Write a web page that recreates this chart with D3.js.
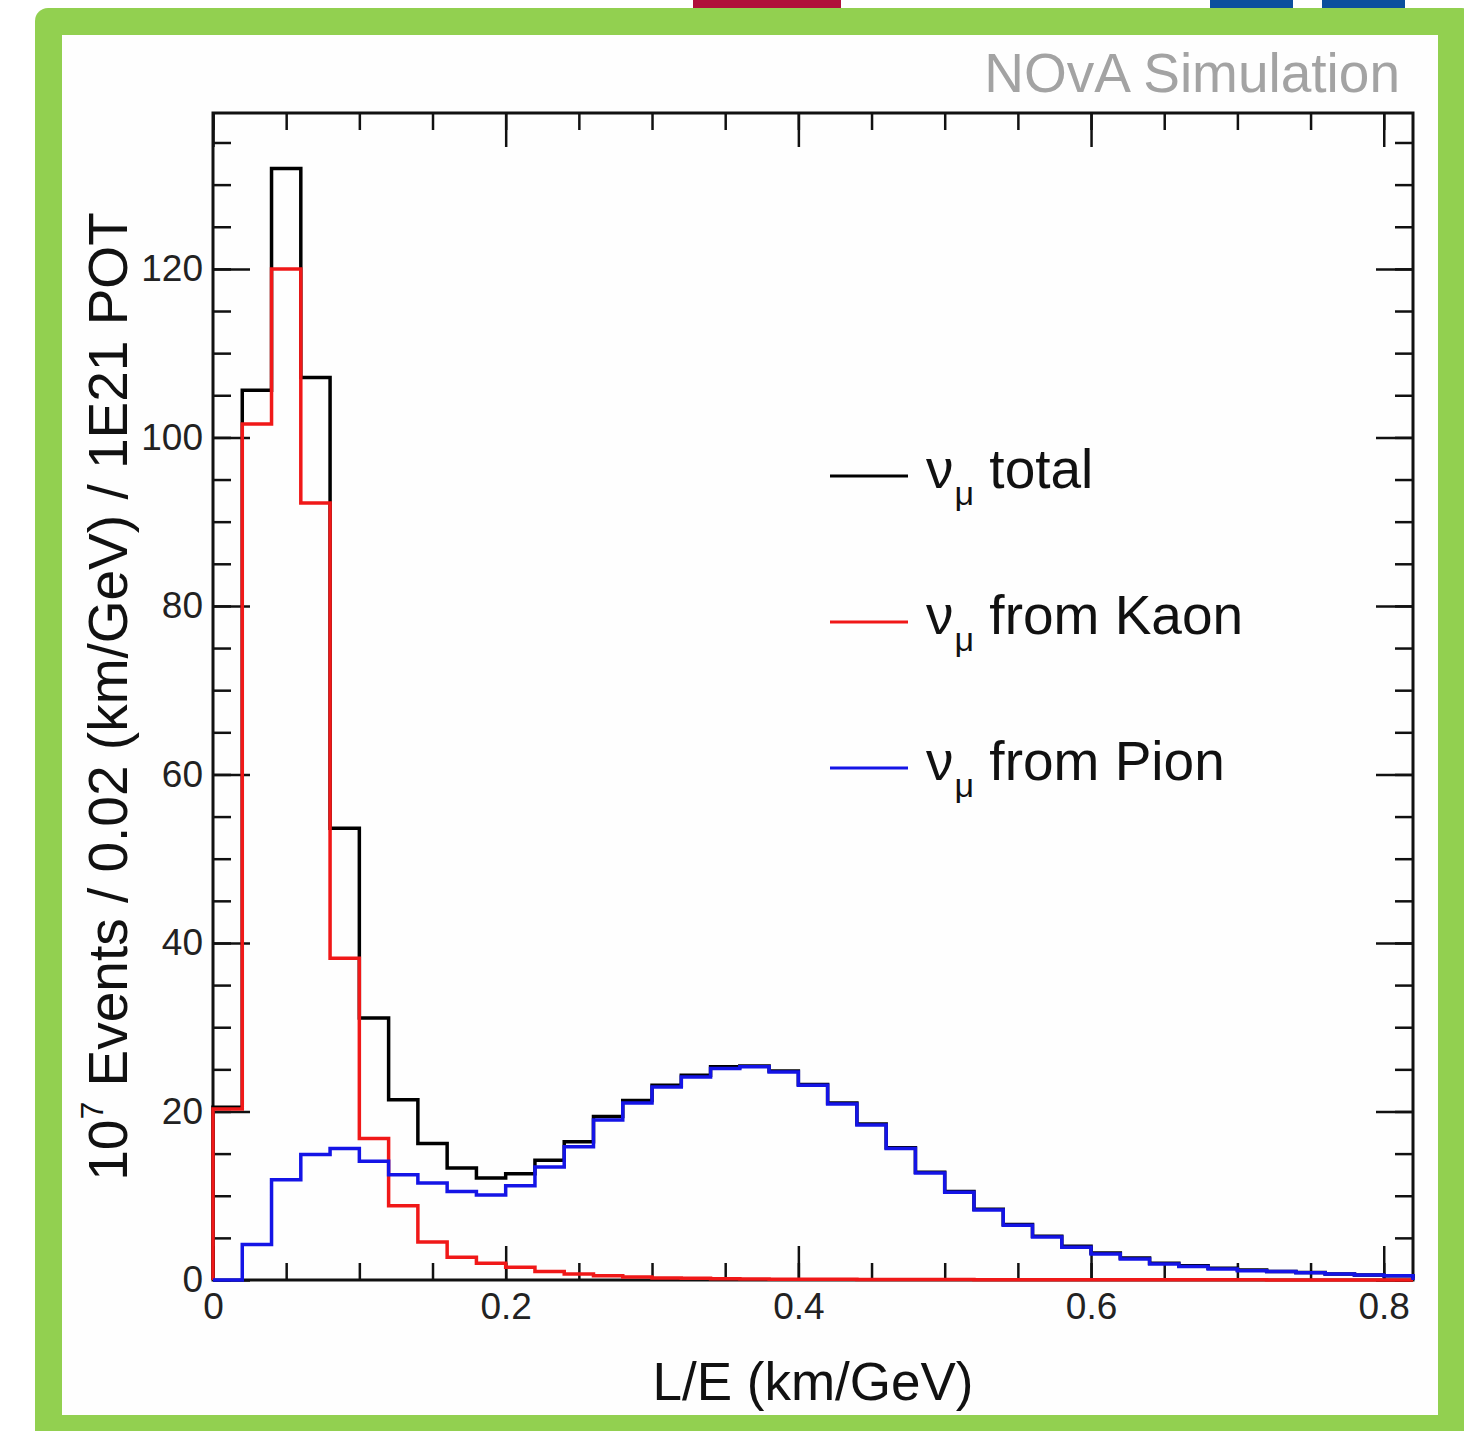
<!DOCTYPE html>
<html>
<head>
<meta charset='utf-8'>
<title>NOvA L/E</title>
<style>
  body { margin: 0; background: #fff; }
  text { font-family: 'Liberation Sans', Arial, sans-serif; }
</style>
<script src='https://d3js.org/d3.v7.min.js'></script>
</head>
<body>
<div id="container"></div>
<script>
// ******* Data (0.02 km/GeV bins from 0 to 0.82) *******
const binWidth = 0.02;
const total = [20.5, 105.6, 131.9, 107.1, 53.6, 31.1, 21.4, 16.2, 13.3, 12.1,
               12.6, 14.2, 16.4, 19.4, 21.3, 23.1, 24.3, 25.3, 25.4, 24.8,
               23.2, 21.0, 18.5, 15.7, 12.8, 10.5, 8.4, 6.6, 5.2, 4.0,
               3.2, 2.6, 2.0, 1.7, 1.4, 1.2, 1.0, 0.9, 0.7, 0.6, 0.5];
const kaon  = [20.3, 101.6, 120.0, 92.2, 38.2, 16.8, 8.8, 4.5, 2.7, 2.0,
               1.5, 1.0, 0.7, 0.5, 0.35, 0.25, 0.2, 0.15, 0.12, 0.1,
               0.1, 0.08, 0.07, 0.06, 0.05, 0.05, 0.04, 0.04, 0.03, 0.03,
               0.03, 0.02, 0.02, 0.02, 0.02, 0.02, 0.01, 0.01, 0.01, 0.01, 0.01];
const pion  = [0, 4.2, 11.9, 14.9, 15.6, 14.1, 12.5, 11.5, 10.5, 10.1,
               11.2, 13.4, 15.8, 19.0, 21.0, 22.9, 24.1, 25.1, 25.3, 24.7,
               23.1, 20.9, 18.4, 15.6, 12.7, 10.4, 8.3, 6.5, 5.1, 3.9,
               3.1, 2.5, 1.9, 1.6, 1.3, 1.1, 1.0, 0.87, 0.7, 0.6, 0.5];

const xMajor = [0, 0.2, 0.4, 0.6, 0.8];
const yMajor = [0, 20, 40, 60, 80, 100, 120];

const legendLabels = ["total", "from Kaon", "from Pion"];

// ******* Layout *******
const width = 1464, height = 1431;
const padLeft = 213, padRight = 1413, padTop = 113, padBottom = 1280;

var svg = d3.select("#container").append("svg")
    .attr("width", width)
    .attr("height", height)
    .style("display", "block");

// slide decoration: tabs and green frame
svg.append("rect").attr("x", 693).attr("y", 0).attr("width", 148).attr("height", 9).attr("fill", "#b0103a");
svg.append("rect").attr("x", 1210).attr("y", 0).attr("width", 83).attr("height", 9).attr("fill", "#0b4f9d");
svg.append("rect").attr("x", 1322).attr("y", 0).attr("width", 83).attr("height", 9).attr("fill", "#0b4f9d");
svg.append("rect").attr("x", 35).attr("y", 8).attr("width", 1440).attr("height", 1450)
    .attr("rx", 13).attr("fill", "#92d050");
svg.append("rect").attr("x", 62).attr("y", 35).attr("width", 1376).attr("height", 1380).attr("fill", "#fefefe");

// ******* Scales *******
var x = d3.scaleLinear().domain([0, 0.82]).range([padLeft, padRight]);
var y = d3.scaleLinear().domain([0, 138.5]).range([padBottom, padTop]);

// frame (drawn first so the histograms sit on top of it, like ROOT)
svg.append("rect")
    .attr("x", padLeft).attr("y", padTop)
    .attr("width", padRight - padLeft).attr("height", padBottom - padTop)
    .attr("fill", "none").attr("stroke", "#111").attr("stroke-width", 3);

// ******* Axes (ROOT style, ticks inward on all four sides) *******
const xMinor = d3.range(0, 0.8201, 0.05);
const yMinor = d3.range(0, 138, 5);

function styleAxis(g) {
  g.select(".domain").remove();
  g.selectAll("line").attr("stroke", "#111").attr("stroke-width", 2.5);
}

svg.append("g").attr("transform", `translate(0,${padBottom})`)
    .call(d3.axisBottom(x).tickValues(xMinor).tickSize(-17).tickFormat(""))
    .call(styleAxis);
svg.append("g").attr("transform", `translate(0,${padBottom})`)
    .call(d3.axisBottom(x).tickValues(xMajor).tickSize(-34).tickPadding(13)
      .tickFormat(d => d === 0 ? "0" : d3.format(".1f")(d)))
    .call(styleAxis)
    .selectAll("text").attr("font-size", 37).attr("fill", "#222")
    .attr("font-family", "'Liberation Sans', Arial, sans-serif");

svg.append("g").attr("transform", `translate(0,${padTop})`)
    .call(d3.axisTop(x).tickValues(xMinor).tickSize(-17).tickFormat(""))
    .call(styleAxis);
svg.append("g").attr("transform", `translate(0,${padTop})`)
    .call(d3.axisTop(x).tickValues(xMajor).tickSize(-34).tickFormat(""))
    .call(styleAxis);

svg.append("g").attr("transform", `translate(${padLeft},0)`)
    .call(d3.axisLeft(y).tickValues(yMinor).tickSize(-18).tickFormat(""))
    .call(styleAxis);
svg.append("g").attr("transform", `translate(${padLeft},0)`)
    .call(d3.axisLeft(y).tickValues(yMajor).tickSize(-37).tickPadding(10))
    .call(styleAxis)
    .selectAll("text").attr("font-size", 37).attr("fill", "#222")
    .attr("font-family", "'Liberation Sans', Arial, sans-serif");

svg.append("g").attr("transform", `translate(${padRight},0)`)
    .call(d3.axisRight(y).tickValues(yMinor).tickSize(-18).tickFormat(""))
    .call(styleAxis);
svg.append("g").attr("transform", `translate(${padRight},0)`)
    .call(d3.axisRight(y).tickValues(yMajor).tickSize(-37).tickFormat(""))
    .call(styleAxis);

// ******* Histograms *******
function steps(vals) {
  var pts = [[0, 0]];
  vals.forEach(function(v, i) {
    pts.push([i * binWidth, v]);
    pts.push([(i + 1) * binWidth, v]);
  });
  pts.push([vals.length * binWidth, 0]);
  return pts;
}
var line = d3.line().x(d => x(d[0])).y(d => y(d[1]));

const series = [
  {name: "total", vals: total, color: "#000000"},
  {name: "kaon",  vals: kaon,  color: "#f01818"},
  {name: "pion",  vals: pion,  color: "#1414e6"}
];

svg.selectAll("path.hist")
    .data(series)
    .enter()
    .append("path")
    .attr("class", "hist")
    .attr("d", d => line(steps(d.vals)))
    .attr("fill", "none")
    .attr("stroke", d => d.color)
    .attr("stroke-width", 3.5)
    .attr("stroke-linejoin", "miter");

// ******* Legend *******
var leg = svg.selectAll("g.legend")
    .data(series)
    .enter()
    .append("g")
    .attr("class", "legend")
    .attr("transform", (d, i) => `translate(0,${476 + i * 146})`);

leg.append("line")
    .attr("x1", 830).attr("x2", 908)
    .attr("stroke", d => d.color)
    .attr("stroke-width", 3);

var lt = leg.append("text")
    .attr("x", 926).attr("y", 12)
    .attr("font-size", 55)
    .attr("fill", "#111");
lt.append("tspan").text("ν");
lt.append("tspan").attr("font-size", 34).attr("dy", 17).attr("dx", 1).text("μ");
lt.append("tspan").attr("dy", -17).attr("dx", 0).text((d, i) => " " + legendLabels[i]);

// ******* Titles *******
svg.append("text")
    .attr("x", 1400).attr("y", 92)
    .attr("text-anchor", "end")
    .attr("font-size", 55)
    .attr("fill", "#a3a3a3")
    .text("NOvA Simulation");

svg.append("text")
    .attr("x", (padLeft + padRight) / 2).attr("y", 1400)
    .attr("text-anchor", "middle")
    .attr("font-size", 53)
    .attr("fill", "#111")
    .text("L/E (km/GeV)");

var yt = svg.append("text")
    .attr("transform", `translate(127,${(padTop + padBottom) / 2}) rotate(-90)`)
    .attr("text-anchor", "middle")
    .attr("font-size", 55)
    .attr("fill", "#111");
yt.append("tspan").text("10");
yt.append("tspan").attr("font-size", 32).attr("dy", -24).text("7");
yt.append("tspan").attr("dy", 24).text(" Events / 0.02 (km/GeV) / 1E21 POT");
</script>
</body>
</html>
